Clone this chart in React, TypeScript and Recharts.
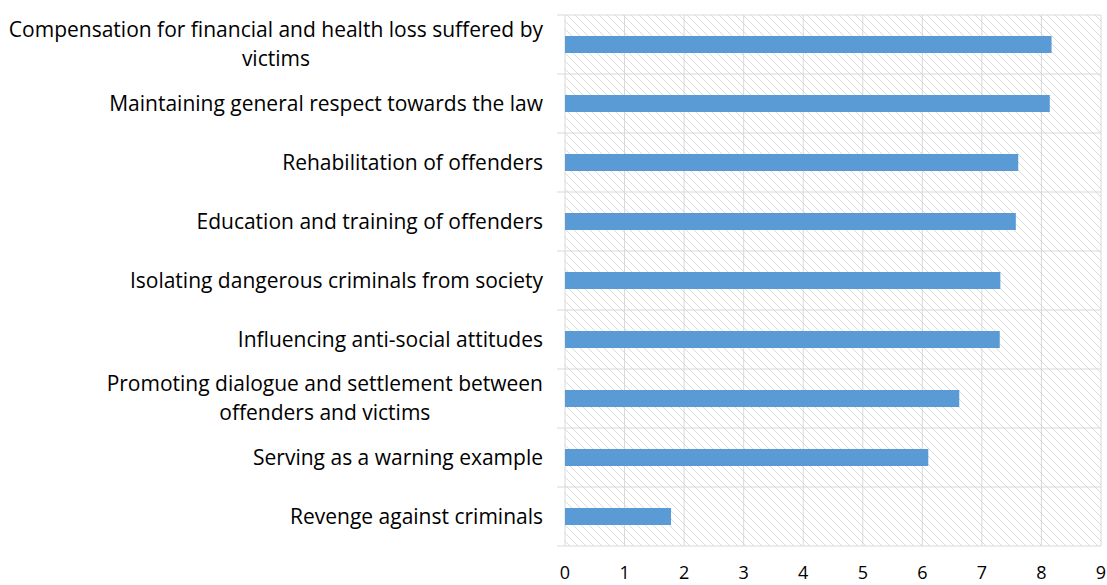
import { BarChart, Bar, XAxis, YAxis, CartesianGrid } from "recharts"

const CATEGORIES = [
    "Compensation for financial and health loss suffered by\nvictims",
    "Maintaining general respect towards the law",
    "Rehabilitation of offenders",
    "Education and training of offenders",
    "Isolating dangerous criminals from society",
    "Influencing anti-social attitudes",
    "Promoting dialogue and settlement between\noffenders and victims",
    "Serving as a warning example",
    "Revenge against criminals",
]
const SCORES = [8.17, 8.14, 7.61, 7.57, 7.31, 7.3, 6.62, 6.1, 1.78]
const X_TICKS = [0, 1, 2, 3, 4, 5, 6, 7, 8, 9]

const FONT = "'Open Sans', sans-serif"
const FONT_SIZE = 21
const GRID = "#D9D9D9"
const BAR = "#5B9BD5"

const data = CATEGORIES.map((name, i) => ({ name, score: SCORES[i] }))

// canvas measure so wrapped labels can be centred like Excel does
let ctx: CanvasRenderingContext2D | null = null
function textWidth(s: string) {
    if (!ctx) {
        ctx = document.createElement("canvas").getContext("2d")
        if (ctx) ctx.font = `${FONT_SIZE}px ${FONT}`
    }
    return ctx ? ctx.measureText(s).width : s.length * 10
}

const TICK_SIZE = 8
const TICK_MARGIN = 14

function CategoryTick(props: any) {
    const { x, y, payload, index } = props
    const lines: string[] = String(payload.value).split("\n")
    const half = payload.offset ?? 0
    const axisX = x + TICK_SIZE + TICK_MARGIN
    const widest = Math.max(...lines.map(textWidth))
    const cx = x - widest / 2
    const lh = 29
    const y0 = y - ((lines.length - 1) * lh) / 2
    return (
        <g>
            <line x1={axisX - TICK_SIZE} x2={axisX} y1={y - half} y2={y - half} stroke={GRID} />
            {index === CATEGORIES.length - 1 && (
                <line x1={axisX - TICK_SIZE} x2={axisX} y1={y + half} y2={y + half} stroke={GRID} />
            )}
            {lines.map((l, i) => (
                <text
                    key={i}
                    x={lines.length > 1 ? cx : x}
                    y={y0 + i * lh}
                    dy="0.35em"
                    textAnchor={lines.length > 1 ? "middle" : "end"}
                    fill="#000"
                    fontSize={FONT_SIZE}
                    fontFamily={FONT}
                >
                    {l}
                </text>
            ))}
        </g>
    )
}

export default function App() {
    return (
        <div style={{ position: "absolute", left: 0, top: 0, background: "#fff" }}>
            <BarChart
                width={1107}
                height={585}
                data={data}
                layout="vertical"
                margin={{ top: 15, right: 6, bottom: 0, left: 0 }}
            >
                <defs>
                    <pattern id="hatch" patternUnits="userSpaceOnUse" width={8} height={8}>
                        <path d="M0,0 L8,8 M-2,6 L2,10 M6,-2 L10,2" stroke="#DCDCDC" strokeWidth={1} />
                    </pattern>
                </defs>
                <CartesianGrid
                    stroke={GRID}
                    strokeWidth={1}
                    fill="url(#hatch)"
                    fillOpacity={1}
                    horizontalCoordinatesGenerator={({ offset }: any) =>
                        CATEGORIES.map((_, i) => offset.top + (i * offset.height) / CATEGORIES.length).concat(
                            offset.top + offset.height
                        )
                    }
                />
                <XAxis
                    type="number"
                    domain={[0, 9]}
                    ticks={X_TICKS}
                    interval={0}
                    height={39}
                    axisLine={false}
                    tickLine={false}
                    tickSize={8}
                    tickMargin={12}
                    tick={{ fill: "#000", fontSize: 18, fontFamily: FONT }}
                />
                <YAxis
                    type="category"
                    dataKey="name"
                    width={565}
                    interval={0}
                    axisLine={false}
                    tickLine={false}
                    tickSize={TICK_SIZE}
                    tickMargin={TICK_MARGIN}
                    tick={<CategoryTick />}
                />
                <Bar dataKey="score" fill={BAR} barSize={17} isAnimationActive={false} />
            </BarChart>
        </div>
    )
}
